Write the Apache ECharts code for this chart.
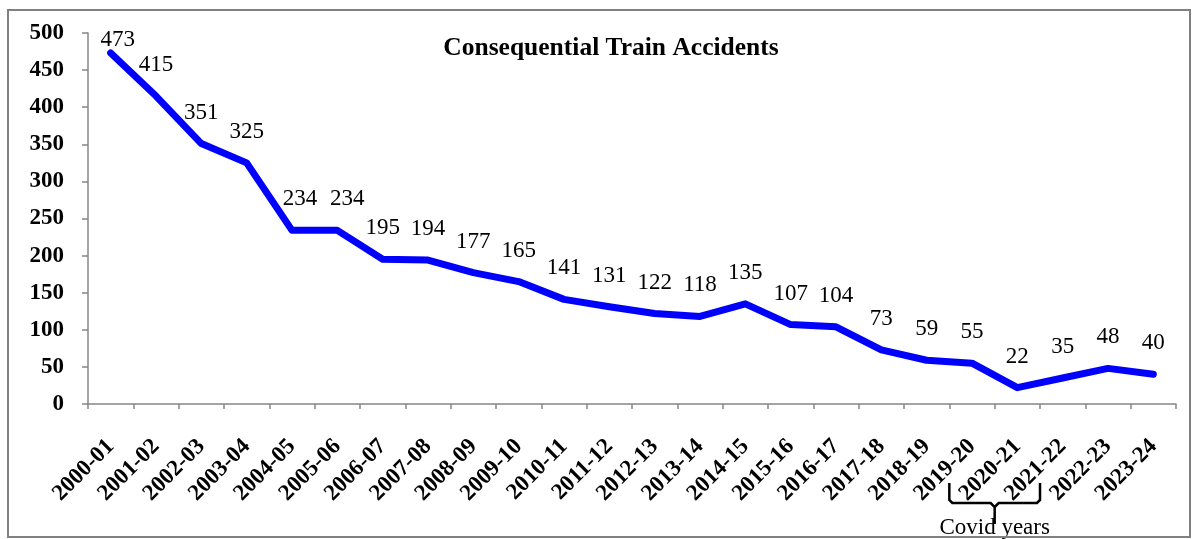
<!DOCTYPE html>
<html><head><meta charset="utf-8">
<script src="https://cdn.jsdelivr.net/npm/echarts@6/dist/echarts.min.js"></script>
<style>html,body{margin:0;padding:0;background:#fff}#c{width:1200px;height:539px}</style>
</head><body><div id="c"></div>
<script>
const categories = ["2000-01","2001-02","2002-03","2003-04","2004-05","2005-06","2006-07","2007-08","2008-09","2009-10","2010-11","2011-12","2012-13","2013-14","2014-15","2015-16","2016-17","2017-18","2018-19","2019-20","2020-21","2021-22","2022-23","2023-24"];
const accidents = [473,415,351,325,234,234,195,194,177,165,141,131,122,118,135,107,104,73,59,55,22,35,48,40];
const titleText = "Consequential Train Accidents";
const covidLabel = "Covid years";

const chart = echarts.init(document.getElementById('c'));
const serif = '"Liberation Serif","Times New Roman",serif';
const labelShift = {0:[7,18],4:[8,0],5:[10,0]};
chart.setOption({
  animation:false,
  title:{text:titleText,left:606,top:30,textAlign:'center',textStyle:{fontFamily:serif,fontWeight:'bold',fontSize:25.5,color:'#000'}},
  grid:{left:88,right:24,top:33,bottom:135},
  xAxis:{type:'category',data:categories,boundaryGap:true,
    axisLine:{lineStyle:{color:'#868686',width:1.5}},
    axisTick:{show:true,length:5,lineStyle:{color:'#868686',width:1.5}},
    axisLabel:{rotate:45,interval:0,margin:39,fontFamily:serif,fontWeight:'bold',fontSize:23,color:'#000'}},
  yAxis:{type:'value',min:0,max:500,interval:50,
    axisLine:{show:true,lineStyle:{color:'#868686',width:1.5}},
    axisTick:{show:true,length:6,lineStyle:{color:'#868686',width:1.5}},
    splitLine:{show:false},
    axisLabel:{margin:24,fontFamily:serif,fontWeight:'bold',fontSize:23,color:'#000'}},
  series:[{type:'line',data:accidents.map((v,i)=> labelShift[i]?{value:v,label:{offset:labelShift[i]}}:v),
    symbol:'circle',symbolSize:1,showSymbol:true,itemStyle:{color:'#0000ff'},
    lineStyle:{color:'#0000ff',width:7,cap:'round',join:'round'},
    label:{show:true,position:'top',distance:19,fontFamily:serif,fontSize:23,color:'#000'}}]
});

const band = chart.convertToPixel({xAxisIndex:0},1) - chart.convertToPixel({xAxisIndex:0},0);
const xl = chart.convertToPixel({xAxisIndex:0},19) - band/2;
const xr = chart.convertToPixel({xAxisIndex:0},21) - band/2;
const xm = (xl+xr)/2;
chart.setOption({graphic:[
  {type:'rect',shape:{x:8,y:10,width:1182,height:527},style:{fill:'none',stroke:'#808080',lineWidth:2},z:10},
  {type:'polyline',shape:{points:[[xl,483],[xl,500],[xl+3,503],[xm-4,503],[xm,507],[xm,524]]},style:{fill:'none',stroke:'#000',lineWidth:2.5}},
  {type:'polyline',shape:{points:[[xr,483],[xr,500],[xr-3,503],[xm+4,503],[xm,507]]},style:{fill:'none',stroke:'#000',lineWidth:2.5}},
  {type:'text',x:xm,y:516,style:{text:covidLabel,fontFamily:serif,fontSize:23,fill:'#000',align:'center',verticalAlign:'top'}}
]});
</script></body></html>
